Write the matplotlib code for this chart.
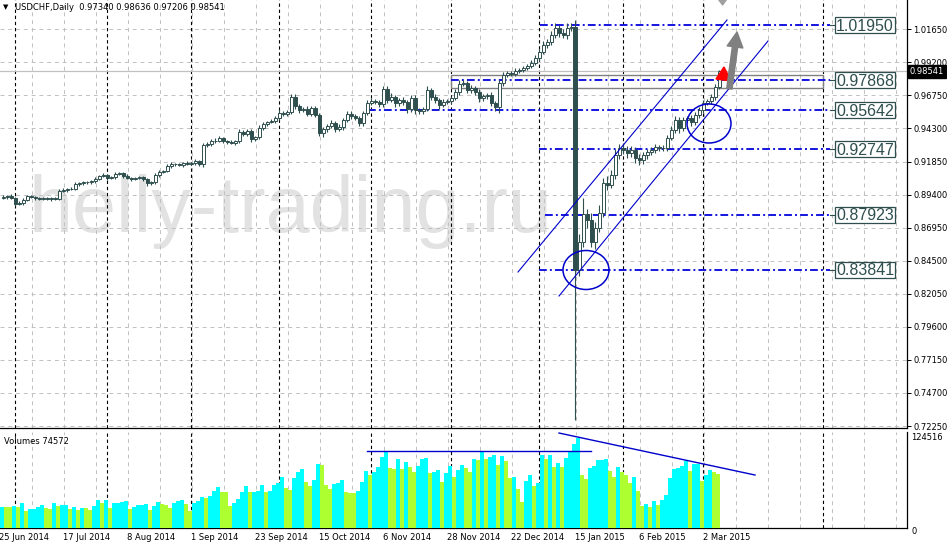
import numpy as np
import matplotlib
matplotlib.use("Agg")
import matplotlib.pyplot as plt
from matplotlib.patches import Ellipse, Rectangle, Polygon
from matplotlib.transforms import blended_transform_factory

plt.rcParams['font.family'] = ['DejaVu Sans']

# daily closes USDCHF, 26 Jun 2014 .. 6 Mar 2015
closes = [
    0.8922, 0.8930, 0.8915, 0.8870, 0.8878, 0.8900, 0.8930, 0.8922, 0.8915, 0.8907,
    0.8915, 0.8907, 0.8915, 0.8907, 0.8967, 0.8974, 0.8981, 0.8985, 0.9019, 0.9026,
    0.9033, 0.9030, 0.9041, 0.9056, 0.9078, 0.9085, 0.9063, 0.9070, 0.9093, 0.9100,
    0.9078, 0.9063, 0.9056, 0.9063, 0.9070, 0.9056, 0.9026, 0.9030, 0.9085, 0.9107,
    0.9115, 0.9152, 0.9167, 0.9165, 0.9159, 0.9174, 0.9167, 0.9174, 0.9189, 0.9167,
    0.9308, 0.9312, 0.9337, 0.9340, 0.9359, 0.9337, 0.9330, 0.9322, 0.9337, 0.9404,
    0.9389, 0.9411, 0.9352, 0.9367, 0.9434, 0.9463, 0.9478, 0.9485, 0.9508, 0.9545,
    0.9537, 0.9552, 0.9663, 0.9597, 0.9567, 0.9574, 0.9537, 0.9582, 0.9530, 0.9397,
    0.9426, 0.9448, 0.9471, 0.9426, 0.9441, 0.9493, 0.9537, 0.9522, 0.9508, 0.9471,
    0.9545, 0.9619, 0.9634, 0.9626, 0.9611, 0.9723, 0.9641, 0.9663, 0.9619, 0.9641,
    0.9626, 0.9574, 0.9656, 0.9567, 0.9560, 0.9574, 0.9715, 0.9663, 0.9641, 0.9604,
    0.9626, 0.9634, 0.9656, 0.9700, 0.9760, 0.9767, 0.9715, 0.9730, 0.9700, 0.9656,
    0.9671, 0.9678, 0.9619, 0.9589, 0.9767, 0.9826, 0.9841, 0.9834, 0.9856, 0.9863,
    0.9878, 0.9893, 0.9915, 0.9952, 0.9997, 1.0049, 1.0071, 1.0123, 1.0175, 1.0137,
    1.0123, 1.0175, 1.0182, 0.8381, 0.8589, 0.8796, 0.8752, 0.8589, 0.8693, 0.8804,
    0.9026, 0.9011, 0.9085, 0.9233, 0.9285, 0.9271, 0.9248, 0.9271, 0.9211, 0.9196,
    0.9233, 0.9256, 0.9271, 0.9293, 0.9285, 0.9288, 0.9359, 0.9419, 0.9493, 0.9434,
    0.9493, 0.9508, 0.9478, 0.9530, 0.9567, 0.9619, 0.9634, 0.9663, 0.9734, 0.9854,
]
first_open = 0.8915

# shadows above / below the body, in pips
wick_hi = [
    12, 10, 15, 8, 14, 12, 10, 9, 8, 10, 7, 9, 8, 10, 15, 12, 10, 9, 12, 10,
    9, 11, 8, 14, 10, 12, 9, 8, 15, 10, 8, 12, 9, 10, 8, 11, 9, 10, 14, 12,
    10, 12, 15, 9, 10, 8, 12, 10, 14, 9, 18, 15, 12, 20, 14, 10, 9, 12, 10, 25,
    15, 18, 12, 10, 20, 15, 10, 14, 12, 20, 15, 18, 22, 25, 15, 12, 20, 18, 15, 14,
    18, 15, 20, 15, 22, 18, 25, 20, 14, 12, 18, 20, 22, 18, 15, 25, 20, 28, 18, 15,
    20, 15, 25, 22, 12, 15, 30, 18, 20, 15, 20, 14, 18, 22, 28, 20, 18, 25, 15, 20,
    14, 18, 22, 12, 20, 25, 18, 15, 20, 14, 18, 15, 20, 22, 25, 30, 20, 28, 40, 25,
    30, 35, 28, 52, 60, 120, 40, 50, 45, 60, 35, 50, 40, 45, 30, 35, 28, 30, 25, 30,
    25, 20, 22, 25, 18, 20, 25, 30, 28, 22, 20, 18, 25, 20, 22, 25, 18, 20, 25, 10,
]
wick_lo = [
    10, 12, 8, 15, 10, 12, 9, 10, 12, 8, 10, 9, 12, 10, 8, 10, 12, 9, 10, 14,
    12, 10, 9, 12, 10, 8, 14, 10, 12, 9, 15, 10, 12, 9, 10, 12, 20, 14, 10, 12,
    9, 10, 12, 14, 10, 12, 9, 10, 12, 15, 20, 12, 10, 15, 12, 18, 14, 10, 12, 15,
    18, 14, 20, 12, 15, 12, 14, 10, 12, 15, 14, 12, 18, 25, 20, 15, 12, 14, 15, 25,
    30, 20, 15, 25, 14, 20, 15, 22, 18, 25, 20, 15, 14, 18, 20, 22, 25, 18, 30, 20,
    22, 30, 25, 28, 20, 25, 18, 22, 20, 28, 15, 18, 20, 15, 20, 18, 22, 25, 20, 28,
    20, 22, 25, 30, 45, 20, 15, 18, 14, 12, 15, 14, 18, 15, 20, 18, 22, 25, 20, 30,
    25, 28, 22, 1111, 45, 40, 60, 40, 55, 30, 30, 35, 25, 30, 28, 30, 35, 30, 40, 35,
    30, 28, 25, 22, 25, 20, 22, 18, 20, 35, 25, 20, 30, 22, 20, 25, 18, 22, 20, 13,
]

# tick volume, thousands
volumes_k = [
    29.5, 28.6, 28.6, 30.4, 28.6, 34.1, 24.0, 25.8, 26.3, 29.5,
    31.4, 27.2, 25.8, 34.1, 30.4, 31.4, 31.8, 25.8, 28.6, 24.9,
    27.7, 27.2, 24.9, 30.4, 38.7, 34.1, 38.7, 27.2, 34.1, 35.0,
    36.0, 37.4, 25.8, 28.6, 31.8, 31.9, 33.2, 24.9, 30.4, 36.0,
    32.7, 31.8, 27.7, 34.1, 36.9, 38.7, 33.2, 24.0, 34.1, 36.9,
    42.4, 42.0, 44.3, 51.6, 56.3, 49.8, 49.5, 30.4, 35.0, 39.7,
    50.3, 58.1, 49.8, 50.3, 50.7, 59.0, 49.8, 51.6, 59.0, 62.7,
    70.1, 55.8, 52.6, 68.7, 77.0, 81.2, 64.1, 58.1, 65.9, 88.1,
    87.2, 59.5, 54.0, 60.9, 61.8, 65.9, 49.8, 48.9, 48.4, 51.2,
    63.2, 78.9, 72.9, 77.0, 84.4, 98.7, 105.1, 82.5, 81.6, 95.5,
    81.2, 91.3, 83.9, 77.5, 86.2, 95.0, 96.8, 75.6, 77.9, 79.8,
    63.2, 75.6, 85.8, 71.0, 80.2, 86.7, 82.5, 77.0, 95.0, 94.5,
    105.1, 95.0, 98.7, 101.0, 87.2, 99.6, 92.7, 68.7, 70.1, 54.0,
    36.4, 65.0, 73.3, 58.1, 62.7, 101.0, 95.0, 101.0, 84.8, 89.5,
    83.9, 96.3, 105.1, 116.2, 124.516, 73.3, 67.3, 82.5, 85.8, 94.1,
    94.3, 95.0, 78.9, 70.1, 83.9, 77.9, 73.3, 62.7, 70.1, 51.2,
    30.4, 33.2, 28.6, 37.4, 31.8, 38.7, 45.2, 68.7, 81.2, 83.0,
    86.2, 93.0, 78.9, 88.5, 88.7, 65.0, 73.3, 80.2, 77.9, 74.572,
]

date_idx = [-1, 15, 31, 47, 63, 79, 95, 111, 127, 143, 159, 175]
date_labels = ['25 Jun 2014', '17 Jul 2014', '8 Aug 2014', '1 Sep 2014', '23 Sep 2014',
               '15 Oct 2014', '6 Nov 2014', '28 Nov 2014', '22 Dec 2014', '15 Jan 2015',
               '6 Feb 2015', '2 Mar 2015']
month_starts = [3, 26, 47, 69, 92, 112, 134, 155, 175, 205]

price_ticks = [1.01650, 0.99200, 0.96750, 0.94300, 0.91850, 0.89400, 0.86950,
               0.84500, 0.82050, 0.79600, 0.77150, 0.74700, 0.72250]

levels = [1.01950, 0.97868, 0.95642, 0.92747, 0.87923, 0.83841]
level_from = [134.25, 112.0, 91.25, 134.0, 135.5, 134.0]
bid = 0.98541
vol_max = 124516

# ---- layout (pixel based, 4 px per bar)
W, H = 947, 547
PX = 0.0007411          # price per pixel
TOP = 1.03822
fig = plt.figure(figsize=(W / 100, H / 100), dpi=100)
ax = fig.add_axes([0, (H - 428) / H, 907 / W, 428 / H])
axv = fig.add_axes([0, (H - 528) / H, 907 / W, 96 / H])
xmin, xmax = -0.75, 226.0

dark = '#2F4F4F'
blue = '#1515E0'
navy = '#0000CD'

for a in (ax, axv):
    a.set_xlim(xmin, xmax)
    a.set_xticks([])
    for s in ('left', 'top'):
        a.spines[s].set_visible(False)
    a.spines['right'].set_color('black')
    a.spines['bottom'].set_color('black')
    a.spines['right'].set_linewidth(0.9)
    a.spines['bottom'].set_linewidth(0.9)
    # grid every 8 bars + month separators
    for k in range(1, 29):
        a.axvline(8 * k - 0.75, color='#C0C0C0', lw=0.7, ls=(0, (4, 4)), zorder=1)
    for m in month_starts:
        a.axvline(m, color='black', lw=0.8, ls=(0, (3, 2.5)), zorder=1.5)

ax.set_ylim(TOP - 428 * PX, TOP)
for p in price_ticks:
    ax.axhline(p, color='#C0C0C0', lw=0.7, ls=(0, (4, 4)), zorder=1)
ax.yaxis.tick_right()
ax.set_yticks(price_ticks)
ax.set_yticklabels([f'{p:.5f}' for p in price_ticks])
ax.tick_params(axis='y', direction='out', length=3, width=0.7, labelsize=6, pad=1.5)

# watermark
ax.text(6.25, TOP - 232 * PX, 'helly-trading.ru', family='Liberation Sans', fontsize=57,
        color='#E2E2E2', ha='left', va='baseline', zorder=0.5)

# candles
c = np.array(closes)
o = np.r_[first_open, c[:-1]]
hi = np.maximum(o, c) + np.array(wick_hi) * 1e-4
lo = np.minimum(o, c) - np.array(wick_lo) * 1e-4
x = np.arange(len(c))
up = c >= o
ax.vlines(x, lo, hi, color=dark, lw=0.8, zorder=3)
body = np.abs(c - o)
widths = np.where(body > 0.05, 1.0, 0.75)   # the 15 Jan bar is drawn wider
ax.bar(x, body, bottom=np.minimum(o, c), width=widths,
       color=np.where(up, 'white', dark), edgecolor=dark, linewidth=0.7, zorder=4)

# bid line and horizontal levels
ax.axhline(bid, color='#C0C0C0', lw=0.9, zorder=2)
ax.add_patch(Rectangle((112.0, 0.97300), 93.0, 0.00964, fill=False, ec='#808080', lw=1.0, zorder=2.5))
for lv, x0 in zip(levels, level_from):
    ax.plot([x0, 206.75], [lv, lv], color=blue, lw=1.4, ls=(0, (4, 1.6, 1, 1.6)), zorder=2.6)
    ax.plot([206.75, 208.0], [lv, lv], color=dark, lw=0.8, zorder=2.6)
    ax.add_patch(Rectangle((208.0, lv - 8 * PX), 15.0, 16 * PX, fc='white', ec=dark, lw=0.9, zorder=5))
    ax.text(215.5, lv - 5.6 * PX, f'{lv:.5f}', family='Liberation Sans', fontsize=11.5,
            color=dark, ha='center', va='baseline', zorder=6)

# channel and circles
ax.plot([128.75, 181.0], [0.83664, 1.02340], color=navy, lw=0.8, zorder=5)
ax.plot([139.0, 191.25], [0.81886, 1.00784], color=navy, lw=0.8, zorder=5)
ax.add_patch(Ellipse((145.75, 0.83812), 11.5, 0.0289, fill=False, ec=navy, lw=1.1, zorder=5))
ax.add_patch(Ellipse((176.5, 0.94669), 11.0, 0.0289, fill=False, ec=navy, lw=1.1, zorder=5))

# red marker and grey arrows
ax.add_patch(Polygon([(178.25, 0.97967), (180.25, 0.98857), (182.0, 0.97819)],
                     closed=True, color='red', zorder=6))
ax.annotate('', xy=(183.6, 1.0165), xytext=(181.5, 0.9704),
            arrowprops=dict(arrowstyle='simple,head_length=0.9,head_width=0.95,tail_width=0.32',
                            color='#808080', mutation_scale=12), zorder=6)
ax.add_patch(Polygon([(178.4, 1.0404), (181.3, 1.0404), (179.9, 1.0345)],
                     closed=True, color='#A0A0A0', zorder=6))

# bid label on the price scale
bt = blended_transform_factory(ax.transAxes, ax.transData)
ax.text(1.0 + 3 / 907, bid, f'{bid:.5f}', transform=bt, fontsize=6, color='white',
        ha='left', va='center', clip_on=False, zorder=7,
        bbox=dict(boxstyle='square,pad=0.25', fc='black', ec='black'))

# volumes
v = np.array(volumes_k) * 1000
vup = np.r_[True, v[1:] > v[:-1]]
axv.set_ylim(0, vol_max * 96 / 90)
axv.set_yticks([])
axv.bar(np.arange(len(v)) - 0.25, v, width=1.0,
        color=np.where(vup, '#00FFFF', '#ADFF2F'), linewidth=0, zorder=3)
axv.plot([91.0, 147.0], [106.5e3, 106.5e3], color=navy, lw=1.0, zorder=4)
axv.plot([139.0, 188.0], [131.4e3, 73.3e3], color=navy, lw=1.0, zorder=4)
vt = blended_transform_factory(axv.transAxes, axv.transData)
axv.text(1.0 + 4 / 907, vol_max, str(vol_max), transform=vt, fontsize=6, ha='left', va='center', clip_on=False)
axv.text(1.0 + 4 / 907, -4 * vol_max / 90, '0', transform=vt, fontsize=6, ha='left', va='center', clip_on=False)
axv.text(4 / 907, 1 - 9 / 96, f'Volumes {int(round(v[-1]))}', transform=axv.transAxes,
         fontsize=6, ha='left', va='center')

# dates
dt = blended_transform_factory(axv.transData, axv.transAxes)
for i, lab in zip(date_idx, date_labels):
    axv.text(i, -10 / 96, lab, transform=dt, fontsize=6, ha='left', va='center', clip_on=False)

# header
fig.text(3 / W, 1 - 7 / H, '\u25bc', fontsize=5, ha='left', va='center')
fig.text(15 / W, 1 - 7 / H, 'USDCHF,Daily  0.97340 0.98636 0.97206 0.98541',
         fontsize=6, ha='left', va='center')

fig.savefig('out.png', dpi=100, facecolor='white')
